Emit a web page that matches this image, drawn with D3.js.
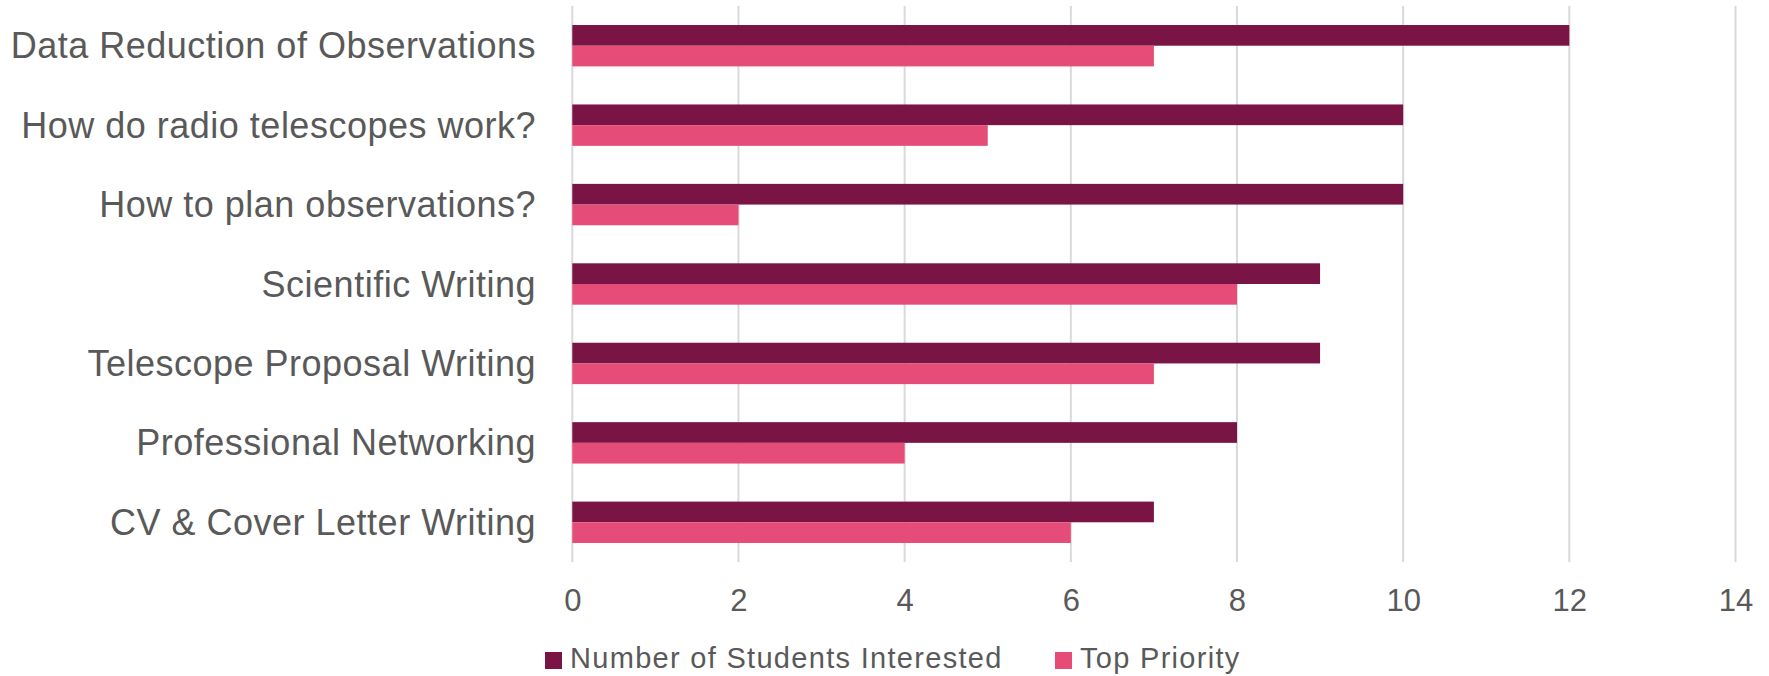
<!DOCTYPE html>
<html>
<head>
<meta charset="utf-8">
<script src="https://cdn.jsdelivr.net/npm/d3@7"></script>
<style>
  html, body { margin: 0; padding: 0; background: #ffffff; }
  svg { display: block; font-family: "Liberation Sans", Arial, sans-serif; }
</style>
</head>
<body>
<svg id="chart" width="1769" height="676"></svg>
<script>
// Workshop topics and survey counts
const categories = [
  "Data Reduction of Observations",
  "How do radio telescopes work?",
  "How to plan observations?",
  "Scientific Writing",
  "Telescope Proposal Writing",
  "Professional Networking",
  "CV & Cover Letter Writing"
];
const interested = [12, 10, 10, 9, 9, 8, 7];
const topPriority = [7, 5, 2, 8, 7, 4, 6];
const seriesNames = ["Number of Students Interested", "Top Priority"];
const xTicks = [0, 2, 4, 6, 8, 10, 12, 14];

const colors = ["#7A1445", "#E64C78"];
const textColor = "#595959";
const gridColor = "#D9D9D9";
const fontStack = "'Liberation Sans', Arial, sans-serif";

const svg = d3.select("#chart");
const plot = { left: 572.3, right: 1735.5, top: 6, bottom: 562 };

const x = d3.scaleLinear().domain([0, 14]).range([plot.left, plot.right]);
const y = d3.scaleBand().domain(categories).range([plot.top, plot.bottom])
  .paddingInner(0.479).paddingOuter(0.2395);
const ySub = d3.scaleBand().domain([0, 1]).range([0, y.bandwidth()]);

// Vertical gridlines
svg.append("g").selectAll("line").data(xTicks).join("line")
  .attr("x1", d => x(d)).attr("x2", d => x(d))
  .attr("y1", plot.top).attr("y2", plot.bottom)
  .attr("stroke", gridColor).attr("stroke-width", 2);

// Bars
const rows = categories.map((c, i) => ({ c, vals: [interested[i], topPriority[i]] }));
const groups = svg.append("g").selectAll("g").data(rows).join("g")
  .attr("transform", d => `translate(0,${y(d.c)})`);
groups.selectAll("rect").data(d => d.vals.map((v, k) => ({ v, k }))).join("rect")
  .attr("x", x(0))
  .attr("y", d => ySub(d.k))
  .attr("width", d => x(d.v) - x(0))
  .attr("height", ySub.bandwidth())
  .attr("fill", d => colors[d.k]);

// Category labels
const yAxis = d3.axisLeft(y).tickSize(0).tickPadding(0);
const yg = svg.append("g").attr("transform", "translate(536,0)").call(yAxis)
  .attr("font-family", fontStack);
yg.select(".domain").remove();
yg.selectAll("text")
  .attr("fill", textColor)
  .attr("font-size", 36)
  .attr("letter-spacing", 0.5)
  .attr("dy", "0.35em");

// Value axis labels
const xAxis = d3.axisBottom(x).tickValues(xTicks).tickSize(0).tickPadding(0);
const xg = svg.append("g").attr("transform", "translate(0,588)").call(xAxis)
  .attr("font-family", fontStack);
xg.select(".domain").remove();
xg.selectAll("text")
  .attr("fill", textColor)
  .attr("font-size", 31)
  .attr("dy", "0.73em");

// Legend
const legendX = [545, 1055];
const legend = svg.append("g").attr("font-family", fontStack)
  .selectAll("g").data(seriesNames).join("g")
  .attr("transform", (d, i) => `translate(${legendX[i]},0)`);
legend.append("rect")
  .attr("x", 0).attr("y", 652).attr("width", 17).attr("height", 17)
  .attr("fill", (d, i) => colors[i]);
legend.append("text")
  .attr("x", 25).attr("y", 668)
  .attr("fill", textColor)
  .attr("font-size", 29)
  .attr("letter-spacing", 1.3)
  .text(d => d);
</script>
</body>
</html>
